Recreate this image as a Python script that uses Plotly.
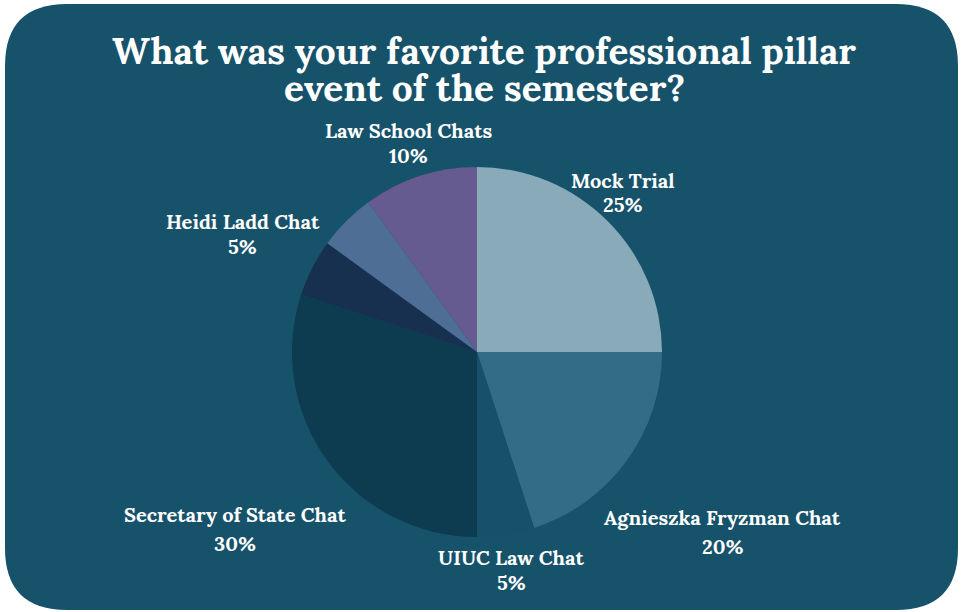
import plotly.graph_objects as go

# Data
labels = ["Mock Trial", "Agnieszka Fryzman Chat", "UIUC Law Chat",
          "Secretary of State Chat", "", "Heidi Ladd Chat", "Law School Chats"]
values = [25, 20, 5, 30, 5, 5, 10]
colors = ["#88aab9", "#336c85", "#165069", "#0d3c51", "#17304f", "#4f6e96", "#655b90"]
title_lines = ["What was your favorite professional pillar", "event of the semester?"]

W, H = 963, 612
BG = "#17526b"
FONT = "Lora, 'DejaVu Serif', serif"

# Pie geometry (pixels)
cx, cy, r = 477, 352, 185

fig = go.Figure(go.Pie(
    labels=labels,
    values=values,
    marker=dict(colors=colors, line=dict(width=0)),
    sort=False,
    direction="clockwise",
    rotation=0,
    textinfo="none",
    hoverinfo="label+percent",
    showlegend=False,
    domain=dict(x=[(cx - r) / W, (cx + r) / W],
                y=[(H - cy - r) / H, (H - cy + r) / H]),
))

# label positions (pixels): centre x, name line y, percent line y
label_pos = [(623, 180, 205), (722, 517, 546), (511, 557, 582), (235, 514, 543),
             None, (243, 221, 246), (408, 130, 155)]

total = sum(values)
annotations = []
for lab, v, pos in zip(labels, values, label_pos):
    if pos is None or not lab:
        continue
    pct = round(100 * v / total)
    for txt, ly in ((lab, pos[1]), (f"{pct}%", pos[2])):
        annotations.append(dict(
            x=pos[0] / W, y=1 - ly / H, xref="paper", yref="paper",
            text=f"<b>{txt}</b>", showarrow=False, align="center",
            xanchor="center", yanchor="middle",
            font=dict(family=FONT, size=20, color="white"),
        ))

for line, ty in zip(title_lines, [50, 88]):
    annotations.append(dict(
        x=484 / W, y=1 - ty / H, xref="paper", yref="paper",
        text=f"<b>{line}</b>",
        showarrow=False, align="center", xanchor="center", yanchor="middle",
        font=dict(family=FONT, size=37, color="white"),
    ))

# rounded rectangle background
x0, y0, x1, y1, rad = 5, 4, 958, 610, 62
def px(x): return x / W
def py(y): return 1 - y / H
path = (f"M {px(x0+rad)},{py(y0)} L {px(x1-rad)},{py(y0)} "
        f"Q {px(x1)},{py(y0)} {px(x1)},{py(y0+rad)} "
        f"L {px(x1)},{py(y1-rad)} Q {px(x1)},{py(y1)} {px(x1-rad)},{py(y1)} "
        f"L {px(x0+rad)},{py(y1)} Q {px(x0)},{py(y1)} {px(x0)},{py(y1-rad)} "
        f"L {px(x0)},{py(y0+rad)} Q {px(x0)},{py(y0)} {px(x0+rad)},{py(y0)} Z")

fig.update_layout(
    width=W, height=H,
    margin=dict(l=0, r=0, t=0, b=0),
    paper_bgcolor="white",
    plot_bgcolor="rgba(0,0,0,0)",
    annotations=annotations,
    shapes=[dict(type="path", path=path, xref="paper", yref="paper",
                 fillcolor=BG, line=dict(width=0), layer="below")],
)

fig.write_html("out.html", config={"displayModeBar": False},
               post_script="document.body.style.margin='0';document.body.style.overflow='hidden';")
